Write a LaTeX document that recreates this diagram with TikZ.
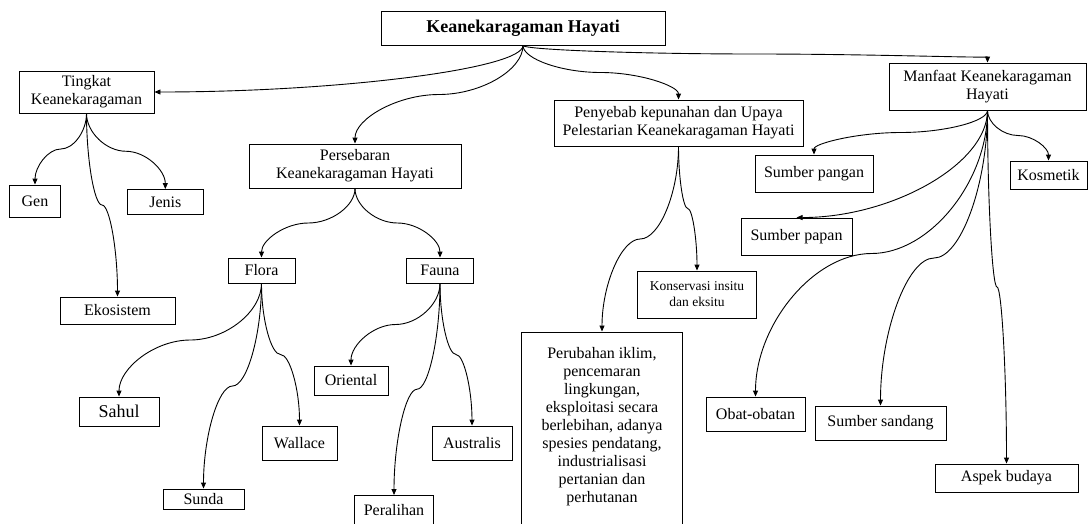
\documentclass[tikz,border=0pt]{standalone}
\usepackage{fontspec}
\setmainfont{Liberation Serif}
\usetikzlibrary{arrows.meta,calc}

\tikzset{
  box/.style={draw, rectangle, align=center, inner sep=0pt, font=\fontsize{16}{18}\selectfont},
  wave/.style={to path={let \p1=(\tikztostart), \p2=(\tikztotarget) in
    .. controls (\x1,{0.75*\y1+0.25*\y2}) and ({0.75*\x1+0.25*\x2},{0.5*\y1+0.5*\y2})
    .. ({0.5*\x1+0.5*\x2},{0.5*\y1+0.5*\y2})
    .. controls ({0.25*\x1+0.75*\x2},{0.5*\y1+0.5*\y2}) and (\x2,{0.25*\y1+0.75*\y2})
    .. (\p2)}},
  bow/.style={to path={let \p1=(\tikztostart), \p2=(\tikztotarget) in
    .. controls (\x1,{0.5*\y1+0.5*\y2}) and ({0.5*\x1+0.5*\x2},\y2) .. (\p2)}},
}

\begin{document}
\begin{tikzpicture}[x=1pt,y=-1pt,line width=0.9pt,>={Triangle[length=6pt,width=5pt]}]
  \useasboundingbox (0,0) rectangle (1089,523);

  \node[box, minimum width=284, minimum height=34, font=\bfseries\fontsize{18}{20}\selectfont] (K) at (523,28) {Keanekaragaman Hayati};

  % Tingkat
  \node[box, minimum width=135, minimum height=42] (T) at (86.5,92) {Tingkat\\Keanekaragaman};
  \node[box, minimum width=51, minimum height=32] (Gen) at (35,201) {Gen};
  \node[box, minimum width=75.5, minimum height=25] (Jenis) at (165.3,202) {Jenis};
  \node[box, minimum width=115, minimum height=27] (Eko) at (117.5,310.5) {Ekosistem};

  % Persebaran
  \node[box, minimum width=212, minimum height=44] (P) at (355,166) {Persebaran\\Keanekaragaman Hayati};
  \node[box, minimum width=67, minimum height=25] (Flora) at (261.5,270.5) {Flora};
  \node[box, minimum width=67.5, minimum height=25] (Fauna) at (440,270.5) {Fauna};
  \node[box, minimum width=80, minimum height=29, font=\fontsize{18}{20}\selectfont] (Sahul) at (119,411.5) {Sahul};
  \node[box, minimum width=81, minimum height=20] (Sunda) at (203.5,499) {Sunda};
  \node[box, minimum width=75, minimum height=34] (Wallace) at (299.5,443) {Wallace};
  \node[box, minimum width=74, minimum height=29] (Oriental) at (351,380.5) {Oriental};
  \node[box, minimum width=78.5, minimum height=30, anchor=north] (Peralihan) at (394,495) {Peralihan};
  \node[box, minimum width=80, minimum height=34] (Australis) at (472,443) {Australis};

  % Penyebab
  \node[box, minimum width=249, minimum height=46] (Py) at (678.5,123) {Penyebab kepunahan dan Upaya\\Pelestarian Keanekaragaman Hayati};
  \node[box, minimum width=161, minimum height=220, anchor=north] (Pr) at (602,331.5) {};
  \node[align=center, font=\fontsize{16}{18}\selectfont] (Prtext) at (602,426.5) {Perubahan iklim,\\pencemaran\\lingkungan,\\eksploitasi secara\\berlebihan, adanya\\spesies pendatang,\\industrialisasi\\pertanian dan\\perhutanan};
  \node[box, minimum width=119.5, minimum height=47, font=\fontsize{13.5}{16}\selectfont] (Kons) at (697,294.5) {Konservasi insitu\\dan eksitu};

  % Manfaat
  \node[box, minimum width=197, minimum height=47] (M) at (987.5,86.5) {Manfaat Keanekaragaman\\Hayati};
  \node[box, minimum width=118, minimum height=37] (Pangan) at (814,173.5) {Sumber pangan};
  \node[box, minimum width=77, minimum height=28] (Kos) at (1048.5,175) {Kosmetik};
  \node[box, minimum width=111, minimum height=37] (Papan) at (796.5,236.5) {Sumber papan};
  \node[box, minimum width=99, minimum height=34] (Obat) at (755.5,414) {Obat-obatan};
  \node[box, minimum width=131, minimum height=34] (Sandang) at (880.5,423) {Sumber sandang};
  \node[box, minimum width=143, minimum height=28] (Aspek) at (1006.5,478) {Aspek budaya};

  \path[->]
    (K.south) edge[bow] (T.east)
    (K.south) edge[wave] (P.north)
    (K.south) edge[wave] (Py.north)
    (K.south) edge[wave] (M.north)
    (T.south) edge[wave] (Gen.north)
    (T.south) edge[wave] (Jenis.north)
    (T.south) edge[wave] (Eko.north)
    (P.south) edge[wave] (Flora.north)
    (P.south) edge[wave] (Fauna.north)
    (Flora.south) edge[wave] (Sahul.north)
    (Flora.south) edge[wave] (Sunda.north)
    (Flora.south) edge[wave] (Wallace.north)
    (Fauna.south) edge[wave] (Oriental.north)
    (Fauna.south) edge[wave] (Peralihan.north)
    (Fauna.south) edge[wave] (Australis.north)
    (Py.south) edge[wave] (Pr.north)
    (Py.south) edge[wave] (Kons.north)
    (M.south) edge[wave] (Pangan.north)
    (M.south) edge[wave] (Kos.north)
    (M.south) edge[bow] (Papan.north)
    (M.south) edge[wave] (Obat.north)
    (M.south) edge[wave] (Sandang.north)
    (M.south) edge[wave] (Aspek.north)
    ;
\end{tikzpicture}
\end{document}
